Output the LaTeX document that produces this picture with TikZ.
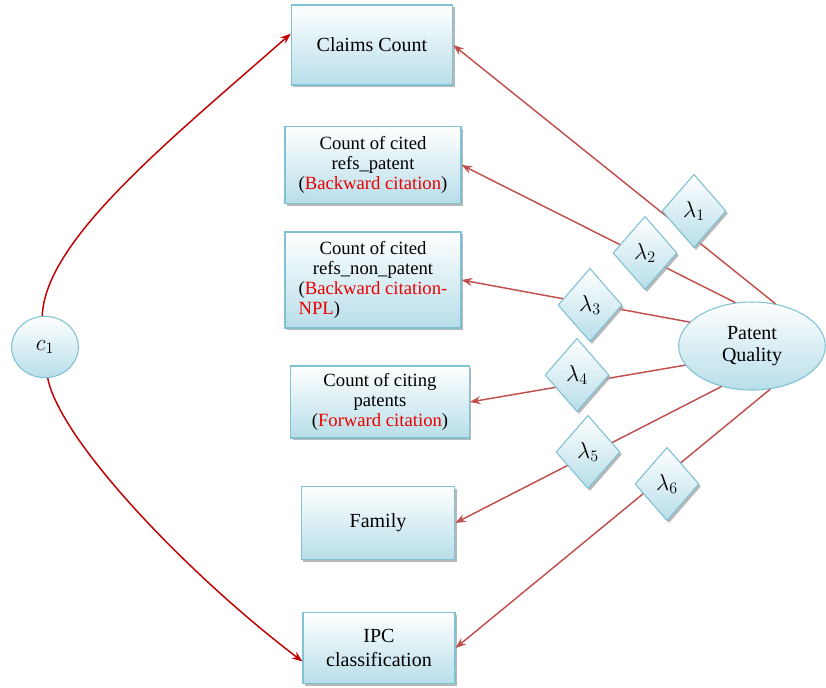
\documentclass[tikz,border=0pt]{standalone}
\usepackage{fontspec}
\setmainfont{Liberation Serif}
\usepackage{tikz}
\usetikzlibrary{arrows.meta}
\usetikzlibrary{shapes.geometric}
\usetikzlibrary{shadows}

\definecolor{boxblue}{RGB}{183,222,233}
\definecolor{boxedge}{RGB}{128,193,212}
\definecolor{linered}{RGB}{192,80,77}
\definecolor{curvered}{RGB}{192,0,0}
\definecolor{citered}{RGB}{235,0,0}

\tikzset{
  itembox/.style={draw=boxedge, line width=0.8pt, top color=white, bottom color=boxblue,
    drop shadow={shadow xshift=1.5pt, shadow yshift=-1.8pt, fill=black!35, opacity=0.8},
    align=center, inner sep=2pt, font=\fontsize{14}{15}\selectfont},
  bigtext/.style={font=\fontsize{15}{18}\selectfont},
  latentnode/.style={ellipse, draw=boxedge, line width=0.8pt, top color=white, bottom color=boxblue,
    align=center, inner sep=0pt, font=\fontsize{15}{17}\selectfont},
  mathtext/.style={font=\fontsize{18}{20}\selectfont},
  lambdabox/.style={diamond, draw=boxedge, line width=0.8pt, top color=white, bottom color=boxblue,
    drop shadow={shadow xshift=1.5pt, shadow yshift=-1.8pt, fill=black!35, opacity=0.8},
    minimum width=48pt, minimum height=55pt, inner sep=0pt, mathtext},
  pqarrow/.style={draw=linered, line width=1.1pt, -{Stealth[length=8pt, width=6pt]}},
  coarrow/.style={draw=curvered, line width=1.1pt, -{Stealth[length=8pt, width=6pt]}}
}

\begin{document}
\begin{tikzpicture}[x=0.75pt,y=0.75pt,yscale=-1,xscale=1]
\useasboundingbox (0,0) rectangle (826,687);

%Indicator boxes
\node[itembox, bigtext, minimum width=121pt, minimum height=60pt] (claims) at (372,45) {Claims Count};
\node[itembox, minimum width=132pt, minimum height=58pt] (citedpat) at (373,165)
  {Count of cited\\refs\_patent\\(\textcolor{citered}{Backward citation})};
\node[itembox, minimum width=132pt, minimum height=72pt] (citednpl) at (373,280)
  {Count of cited\\refs\_non\_patent\\(\textcolor{citered}{Backward citation-}\\
   \rlap{\textcolor{citered}{NPL})}\hphantom{(Backward citation-}};
\node[itembox, minimum width=134pt, minimum height=54pt] (citing) at (380,402)
  {Count of citing\\patents\\(\textcolor{citered}{Forward citation})};
\node[itembox, bigtext, minimum width=115pt, minimum height=55pt] (family) at (378,523) {Family};
\node[itembox, bigtext, minimum width=114pt, minimum height=53pt] (ipc) at (379,648) {IPC\\classification};

%Latent variables
\node[latentnode, mathtext, minimum width=50pt, minimum height=46pt] (c1) at (45,347) {$c_1$};
\node[latentnode, minimum width=110pt, minimum height=66pt] (pq) at (752,346) {Patent\\Quality};

%Curved connectors from c1
\draw[coarrow] (c1.95) .. controls (45,240) and (170,140) .. (claims.172);
\draw[coarrow] (c1.-85) .. controls (60,440) and (185,572) .. (ipc.190);

%Loadings
\draw[pqarrow] (pq.61) -- (claims.east);
\draw[pqarrow] (pq.111) -- (citedpat.east);
\draw[pqarrow] (pq.159) -- (citednpl.east);
\draw[pqarrow] (pq.196) -- (citing.east);
\draw[pqarrow] (pq.233) -- (family.east);
\draw[pqarrow] (pq.293) -- (ipc.east);

%Loading labels
\node[lambdabox] (l1) at (694,211) {$\lambda_1$};
\node[lambdabox] (l2) at (645,253) {$\lambda_2$};
\node[lambdabox] (l3) at (590,305) {$\lambda_3$};
\node[lambdabox] (l4) at (577,375) {$\lambda_4$};
\node[lambdabox] (l5) at (588,452) {$\lambda_5$};
\node[lambdabox] (l6) at (667,484) {$\lambda_6$};

\end{tikzpicture}
\end{document}
